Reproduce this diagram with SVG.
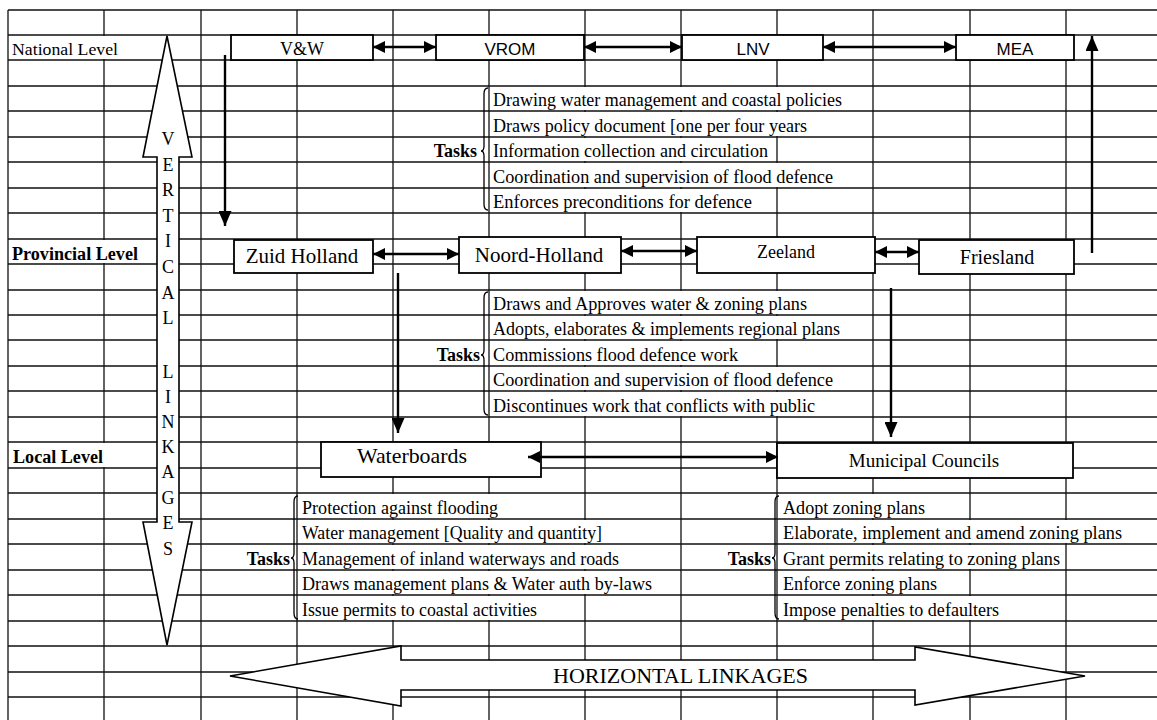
<svg xmlns="http://www.w3.org/2000/svg" width="1157" height="720" viewBox="0 0 1157 720">
<style>
.grid{fill:none;stroke:#111;stroke-width:1.3}
.cov{fill:#fff;stroke:none}
.box{fill:#fff;stroke:#000;stroke-width:1.8}
.blk{fill:#fff;stroke:#000;stroke-width:1.6;stroke-linejoin:miter}
.dbl{stroke:#000;stroke-width:2.6;fill:none;marker-start:url(#hd);marker-end:url(#hd)}
.one{stroke:#000;stroke-width:2.4;fill:none;marker-end:url(#hs)}
.brace{fill:none;stroke:#000;stroke-width:1.3}
.t{font-family:"Liberation Serif","Times New Roman",serif;font-size:18px;fill:#000}
.s{font-family:"Liberation Sans",Arial,sans-serif;font-size:17px;fill:#000}
.b{font-weight:bold}
.c{text-anchor:middle}
.e{text-anchor:end}
</style>
<defs>
<marker id="hd" viewBox="0 0 12 12" refX="12" refY="6" markerWidth="12" markerHeight="12" markerUnits="userSpaceOnUse" orient="auto-start-reverse"><path d="M0,0 L12,6 L0,12 z" fill="#000"/></marker>
<marker id="hs" viewBox="0 0 15 13" refX="15" refY="6.5" markerWidth="15" markerHeight="13" markerUnits="userSpaceOnUse" orient="auto"><path d="M0,0 L15,6.5 L0,13 z" fill="#000"/></marker>
</defs>
<rect width="1157" height="720" fill="#fff"/>
<g id="grid">
<path class="grid" d="M8 10V720M104 10V720M201 10V720M297 10V720M393 10V720M489 10V720M585 10V720M681 10V720M777 10V720M873 10V720M970 10V720M1066 10V720"/>
<path class="grid" d="M8 10H1157M8 35H1157M8 60H1157M8 86H1157M8 111H1157M8 137H1157M8 162H1157M8 188H1157M8 213H1157M8 239H1157M8 264H1157M8 290H1157M8 315H1157M8 340H1157M8 366H1157M8 391H1157M8 417H1157M8 442H1157M8 468H1157M8 493H1157M8 519H1157M8 544H1157M8 570H1157M8 595H1157M8 621H1157M8 646H1157M8 672H1157M8 697H1157"/>
<rect class="cov" x="9" y="36" width="191" height="23"/>
<rect class="cov" x="9" y="240" width="191" height="23"/>
<rect class="cov" x="9" y="443" width="191" height="24"/>
<rect class="cov" x="490" y="87" width="382" height="23"/>
<rect class="cov" x="490" y="112" width="382" height="24"/>
<rect class="cov" x="490" y="138" width="286" height="23"/>
<rect class="cov" x="490" y="163" width="382" height="24"/>
<rect class="cov" x="490" y="189" width="286" height="23"/>
<rect class="cov" x="490" y="291" width="382" height="23"/>
<rect class="cov" x="490" y="316" width="382" height="23"/>
<rect class="cov" x="490" y="341" width="286" height="24"/>
<rect class="cov" x="490" y="367" width="382" height="23"/>
<rect class="cov" x="490" y="392" width="382" height="24"/>
<rect class="cov" x="298" y="494" width="286" height="24"/>
<rect class="cov" x="298" y="520" width="382" height="23"/>
<rect class="cov" x="298" y="545" width="382" height="24"/>
<rect class="cov" x="298" y="571" width="382" height="23"/>
<rect class="cov" x="298" y="596" width="286" height="24"/>
<rect class="cov" x="778" y="494" width="191" height="24"/>
<rect class="cov" x="778" y="520" width="379" height="23"/>
<rect class="cov" x="778" y="545" width="287" height="24"/>
<rect class="cov" x="778" y="571" width="191" height="23"/>
<rect class="cov" x="778" y="596" width="287" height="24"/>
</g>
<g id="labels">
<text class="t" x="12" y="55" textLength="106" lengthAdjust="spacingAndGlyphs" style="font-size:17.5px">National Level</text>
<text class="t b" x="12" y="260" textLength="126" lengthAdjust="spacingAndGlyphs">Provincial Level</text>
<text class="t b" x="13" y="463" textLength="90" lengthAdjust="spacingAndGlyphs">Local Level</text>
</g>
<g id="vertical-linkages">
<polygon class="blk" points="167,36 192,157 179,157 179,522 192,522 167,645 143,522 157,522 157,157 143,157"/>
<g class="t c">
<text x="168" y="145">V</text><text x="168" y="171">E</text><text x="168" y="196">R</text><text x="168" y="222">T</text><text x="168" y="247">I</text><text x="168" y="273">C</text><text x="168" y="299">A</text><text x="168" y="324">L</text><text x="168" y="378">L</text><text x="168" y="403">I</text><text x="168" y="428">N</text><text x="168" y="453">K</text><text x="168" y="478">A</text><text x="168" y="504">G</text><text x="168" y="529">E</text><text x="168" y="555">S</text>
</g>
</g>
<g id="horizontal-linkages">
<polygon class="blk" points="230,676 401,646 401,660 915,660 915,647 1085,676 915,705 915,690 401,690 401,706"/>
<text class="t" x="553" y="683" textLength="255" lengthAdjust="spacingAndGlyphs" style="font-size:22px">HORIZONTAL LINKAGES</text>
</g>
<g id="vw"><rect class="box" x="231" y="35" width="142" height="25"/><text class="t c" x="302" y="55">V&amp;W</text></g>
<g id="vrom"><rect class="box" x="436" y="35" width="148" height="25"/><text class="s c" x="510" y="55">VROM</text></g>
<g id="lnv"><rect class="box" x="682" y="35" width="141" height="25"/><text class="s c" x="753" y="55">LNV</text></g>
<g id="mea"><rect class="box" x="956" y="35" width="118" height="25"/><text class="s c" x="1015" y="55">MEA</text></g>
<g id="zuid-holland"><rect class="box" x="234" y="240" width="139" height="33"/><text class="t c" x="302" y="263" style="font-size:21px">Zuid Holland</text></g>
<g id="noord-holland"><rect class="box" x="459" y="237" width="162" height="36"/><text class="t c" x="539" y="262" style="font-size:21px">Noord-Holland</text></g>
<g id="zeeland"><rect class="box" x="697" y="237" width="178" height="36"/><text class="t c" x="786" y="258">Zeeland</text></g>
<g id="friesland"><rect class="box" x="919" y="240" width="155" height="34"/><text class="t c" x="997" y="264" style="font-size:20px">Friesland</text></g>
<g id="waterboards"><rect class="box" x="321" y="442" width="220" height="35"/><text class="t" x="357" y="463" textLength="110" lengthAdjust="spacingAndGlyphs" style="font-size:21px">Waterboards</text></g>
<g id="municipal-councils"><rect class="box" x="777" y="443" width="296" height="35"/><text class="t c" x="924" y="467" style="font-size:19px">Municipal Councils</text></g>
<g id="connectors">
<line class="dbl" x1="373" y1="47" x2="436" y2="47"/>
<line class="dbl" x1="584" y1="47" x2="682" y2="47"/>
<line class="dbl" x1="823" y1="47" x2="956" y2="47"/>
<line class="dbl" x1="373" y1="254" x2="459" y2="254"/>
<line class="dbl" x1="621" y1="251" x2="697" y2="251"/>
<line class="dbl" x1="875" y1="252" x2="919" y2="252"/>
<line class="dbl" x1="528" y1="457" x2="778" y2="457"/>
<line class="one" x1="225" y1="55" x2="225" y2="226"/>
<line class="one" x1="1092" y1="253" x2="1092" y2="36"/>
<line class="one" x1="398" y1="273" x2="398" y2="433"/>
<line class="one" x1="891" y1="288" x2="891" y2="437"/>
</g>
<g id="tasks-national">
<path class="brace" d="M488 88Q484 88 484 94V146Q484 151 481 151Q484 151 484 156V204Q484 210 488 210"/>
<text class="t b e" x="477" y="157">Tasks</text>
<text class="t" x="493" y="106" textLength="349" lengthAdjust="spacingAndGlyphs">Drawing water management and coastal policies</text>
<text class="t" x="493" y="132" textLength="314" lengthAdjust="spacingAndGlyphs">Draws policy document [one per four years</text>
<text class="t" x="493" y="157" textLength="275" lengthAdjust="spacingAndGlyphs">Information collection and circulation</text>
<text class="t" x="493" y="183" textLength="340" lengthAdjust="spacingAndGlyphs">Coordination and supervision of flood defence</text>
<text class="t" x="493" y="208" textLength="259" lengthAdjust="spacingAndGlyphs">Enforces preconditions for defence</text>
</g>
<g id="tasks-provincial">
<path class="brace" d="M488 292Q484 292 484 298V350Q484 355 481 355Q484 355 484 360V409Q484 415 488 415"/>
<text class="t b e" x="480" y="361">Tasks</text>
<text class="t" x="493" y="310" textLength="314" lengthAdjust="spacingAndGlyphs">Draws and Approves water &amp; zoning plans</text>
<text class="t" x="493" y="335" textLength="347" lengthAdjust="spacingAndGlyphs">Adopts, elaborates &amp; implements regional plans</text>
<text class="t" x="493" y="361" textLength="245" lengthAdjust="spacingAndGlyphs">Commissions flood defence work</text>
<text class="t" x="493" y="386" textLength="340" lengthAdjust="spacingAndGlyphs">Coordination and supervision of flood defence</text>
<text class="t" x="493" y="412" textLength="322" lengthAdjust="spacingAndGlyphs">Discontinues work that conflicts with public</text>
</g>
<g id="tasks-waterboards">
<path class="brace" d="M298 496Q294 496 294 502V553Q294 558 291 558Q294 558 294 563V613Q294 619 298 619"/>
<text class="t b e" x="290" y="565">Tasks</text>
<text class="t" x="302" y="514" textLength="196" lengthAdjust="spacingAndGlyphs">Protection against flooding</text>
<text class="t" x="302" y="539" textLength="300" lengthAdjust="spacingAndGlyphs">Water management [Quality and quantity]</text>
<text class="t" x="302" y="565" textLength="317" lengthAdjust="spacingAndGlyphs">Management of inland waterways and roads</text>
<text class="t" x="302" y="590" textLength="350" lengthAdjust="spacingAndGlyphs">Draws management plans &amp; Water auth by-laws</text>
<text class="t" x="302" y="616" textLength="235" lengthAdjust="spacingAndGlyphs">Issue permits to coastal activities</text>
</g>
<g id="tasks-municipal">
<path class="brace" d="M779 496Q775 496 775 502V553Q775 558 772 558Q775 558 775 563V613Q775 619 779 619"/>
<text class="t b e" x="771" y="565">Tasks</text>
<text class="t" x="783" y="514" textLength="142" lengthAdjust="spacingAndGlyphs">Adopt zoning plans</text>
<text class="t" x="783" y="539" textLength="339" lengthAdjust="spacingAndGlyphs">Elaborate, implement and amend zoning plans</text>
<text class="t" x="783" y="565" textLength="277" lengthAdjust="spacingAndGlyphs">Grant permits relating to zoning plans</text>
<text class="t" x="783" y="590" textLength="154" lengthAdjust="spacingAndGlyphs">Enforce zoning plans</text>
<text class="t" x="783" y="616" textLength="216" lengthAdjust="spacingAndGlyphs">Impose penalties to defaulters</text>
</g>
</svg>
